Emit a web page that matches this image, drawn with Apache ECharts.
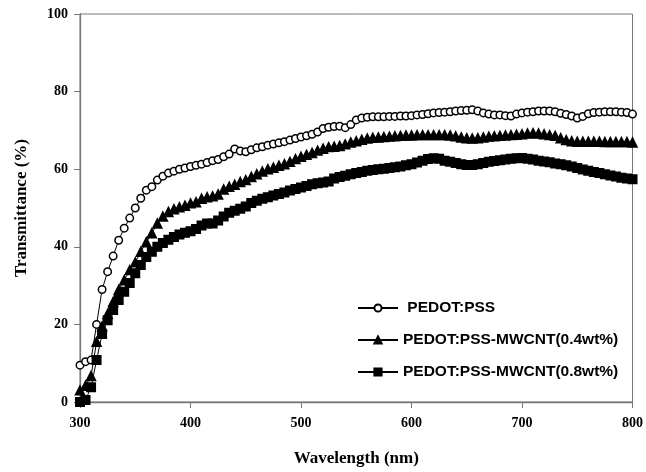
<!DOCTYPE html>
<html>
<head>
<meta charset="utf-8">
<script src="https://cdn.jsdelivr.net/npm/echarts@6/dist/echarts.min.js"></script>
<style>
  html, body { margin: 0; padding: 0; background: #fff; }
  #chart { width: 646px; height: 472px; }
</style>
</head>
<body>
<div id="chart"></div>
<script>
// wavelength (nm)
const wavelengths = [
  300, 305, 310, 315, 320, 325, 330, 335, 340, 345,
  350, 355, 360, 365, 370, 375, 380, 385, 390, 395,
  400, 405, 410, 415, 420, 425, 430, 435, 440, 445,
  450, 455, 460, 465, 470, 475, 480, 485, 490, 495,
  500, 505, 510, 515, 520, 525, 530, 535, 540, 545,
  550, 555, 560, 565, 570, 575, 580, 585, 590, 595,
  600, 605, 610, 615, 620, 625, 630, 635, 640, 645,
  650, 655, 660, 665, 670, 675, 680, 685, 690, 695,
  700, 705, 710, 715, 720, 725, 730, 735, 740, 745,
  750, 755, 760, 765, 770, 775, 780, 785, 790, 795,
  800
];

// PEDOT:PSS
const pedotPss = [
  9.5, 10.4, 10.8, 20.0, 29.0, 33.6, 37.6, 41.7, 44.8, 47.4,
  50.0, 52.5, 54.6, 55.5, 57.2, 58.2, 59.0, 59.5, 60.0, 60.3,
  60.7, 61.0, 61.3, 61.7, 62.2, 62.5, 63.2, 63.9, 65.2, 64.7,
  64.5, 65.0, 65.5, 65.8, 66.2, 66.5, 66.8, 67.1, 67.5, 67.9,
  68.3, 68.6, 69.0, 69.6, 70.5, 70.8, 71.0, 71.1, 70.7, 71.5,
  72.7, 73.2, 73.4, 73.5, 73.5, 73.5, 73.6, 73.6, 73.7, 73.7,
  73.8, 74.0, 74.1, 74.3, 74.5, 74.6, 74.7, 74.8, 75.0, 75.1,
  75.2, 75.3, 75.0, 74.5, 74.2, 74.0, 74.0, 73.8, 73.7, 74.2,
  74.5, 74.7, 74.8, 75.0, 75.0, 75.0, 74.8, 74.4, 74.1, 73.7,
  73.2, 73.6, 74.3, 74.6, 74.7, 74.8, 74.8, 74.8, 74.7, 74.6,
  74.2
];

// PEDOT:PSS-MWCNT(0.4wt%)
const mwcnt04 = [
  3.0, 4.2, 6.7, 15.5, 19.5, 22.7, 25.8, 28.9, 31.4, 34.0,
  36.0, 38.7, 41.2, 43.5, 46.0, 47.8, 49.0, 49.7, 50.2, 50.6,
  51.2, 51.5, 52.4, 52.8, 53.0, 53.5, 54.8, 55.5, 56.0, 56.7,
  57.2, 58.0, 58.7, 59.4, 60.0, 60.4, 60.9, 61.3, 61.9, 62.6,
  63.2, 63.7, 64.2, 64.8, 65.3, 65.7, 65.8, 66.0, 66.4, 66.9,
  67.2, 67.6, 67.9, 68.1, 68.2, 68.3, 68.4, 68.5, 68.6, 68.7,
  68.7, 68.8, 68.8, 68.8, 68.8, 68.8, 68.8, 68.7, 68.5, 68.2,
  68.0, 67.9, 68.0, 68.2, 68.4, 68.5, 68.6, 68.7, 68.8, 68.9,
  69.0, 69.2, 69.3, 69.2, 69.0, 68.8, 68.6, 68.0, 67.5, 67.2,
  67.1, 67.1, 67.1, 67.1, 67.1, 67.0, 67.0, 67.0, 67.0, 67.0,
  66.9
];

// PEDOT:PSS-MWCNT(0.8wt%)
const mwcnt08 = [
  0.0, 0.5, 3.8, 10.8, 17.5, 21.1, 23.7, 26.3, 28.4, 30.7,
  33.2, 35.3, 37.4, 38.7, 40.0, 41.0, 41.8, 42.5, 43.2, 43.6,
  44.0, 44.6, 45.5, 46.0, 46.0, 46.8, 47.8, 48.8, 49.3, 49.8,
  50.4, 51.3, 51.9, 52.4, 52.8, 53.2, 53.6, 54.0, 54.5, 54.9,
  55.3, 55.7, 56.1, 56.4, 56.6, 56.8, 57.6, 58.0, 58.3, 58.7,
  59.0, 59.3, 59.6, 59.8, 60.0, 60.1, 60.3, 60.5, 60.7, 61.0,
  61.3, 61.7, 62.2, 62.6, 62.8, 62.7, 62.2, 61.9, 61.6, 61.3,
  61.1, 61.1, 61.3, 61.6, 61.9, 62.1, 62.3, 62.5, 62.7, 62.8,
  62.9, 62.7, 62.5, 62.2, 62.0, 61.8, 61.5, 61.3, 61.0, 60.7,
  60.3, 59.9, 59.6, 59.3, 59.0, 58.7, 58.4, 58.1, 57.8, 57.6,
  57.4
];

const seriesNames = [' PEDOT:PSS', 'PEDOT:PSS-MWCNT(0.4wt%)', 'PEDOT:PSS-MWCNT(0.8wt%)'];

const chart = echarts.init(document.getElementById('chart'));

const serif = 'Liberation Serif';
const axisColor = '#777';

function pairs(ys) {
  return wavelengths.map((x, i) => [x, ys[i]]);
}

function makeSeries(name, ys, symbol, size, fill) {
  return {
    name: name,
    type: 'line',
    data: pairs(ys),
    symbol: symbol,
    symbolSize: size,
    showAllSymbol: true,
    lineStyle: { color: '#000', width: 1 },
    itemStyle: { color: fill, borderColor: '#000', borderWidth: 1.5 },
    emphasis: { disabled: true },
    animation: false
  };
}

chart.setOption({
  backgroundColor: '#fff',
  animation: false,
  grid: {
    left: 80, right: 10, top: 14, bottom: 70,
    show: true, borderColor: axisColor, borderWidth: 1
  },
  legend: {
    orient: 'vertical',
    left: 352, top: 295,
    itemWidth: 40, itemHeight: 9, itemGap: 16,
    data: seriesNames,
    textStyle: { fontFamily: 'Liberation Sans', fontWeight: 'bold', fontSize: 15.5, color: '#000' }
  },
  xAxis: {
    type: 'value',
    min: 300, max: 800, interval: 100,
    name: 'Wavelength (nm)',
    nameLocation: 'middle',
    nameGap: 48,
    nameTextStyle: { fontFamily: serif, fontWeight: 'bold', fontSize: 17, color: '#000' },
    axisLine: { lineStyle: { color: axisColor, width: 1.3 } },
    axisTick: { length: 6, lineStyle: { color: axisColor } },
    axisLabel: { margin: 14, fontFamily: serif, fontWeight: 'bold', fontSize: 14, color: '#000' },
    splitLine: { show: false }
  },
  yAxis: {
    type: 'value',
    min: 0, max: 100, interval: 20,
    name: 'Transmittance (%)',
    nameLocation: 'middle',
    nameGap: 50,
    nameTextStyle: { fontFamily: serif, fontWeight: 'bold', fontSize: 17, color: '#000' },
    axisLine: { show: true, lineStyle: { color: axisColor, width: 1.3 } },
    axisTick: { show: true, length: 6, lineStyle: { color: axisColor } },
    axisLabel: { margin: 12, fontFamily: serif, fontWeight: 'bold', fontSize: 14, color: '#000' },
    splitLine: { show: false }
  },
  series: [
    makeSeries(seriesNames[0], pedotPss, 'circle', 7.5, '#fff'),
    makeSeries(seriesNames[1], mwcnt04, 'triangle', 9, '#000'),
    makeSeries(seriesNames[2], mwcnt08, 'rect', 8.5, '#000')
  ]
});
</script>
</body>
</html>
